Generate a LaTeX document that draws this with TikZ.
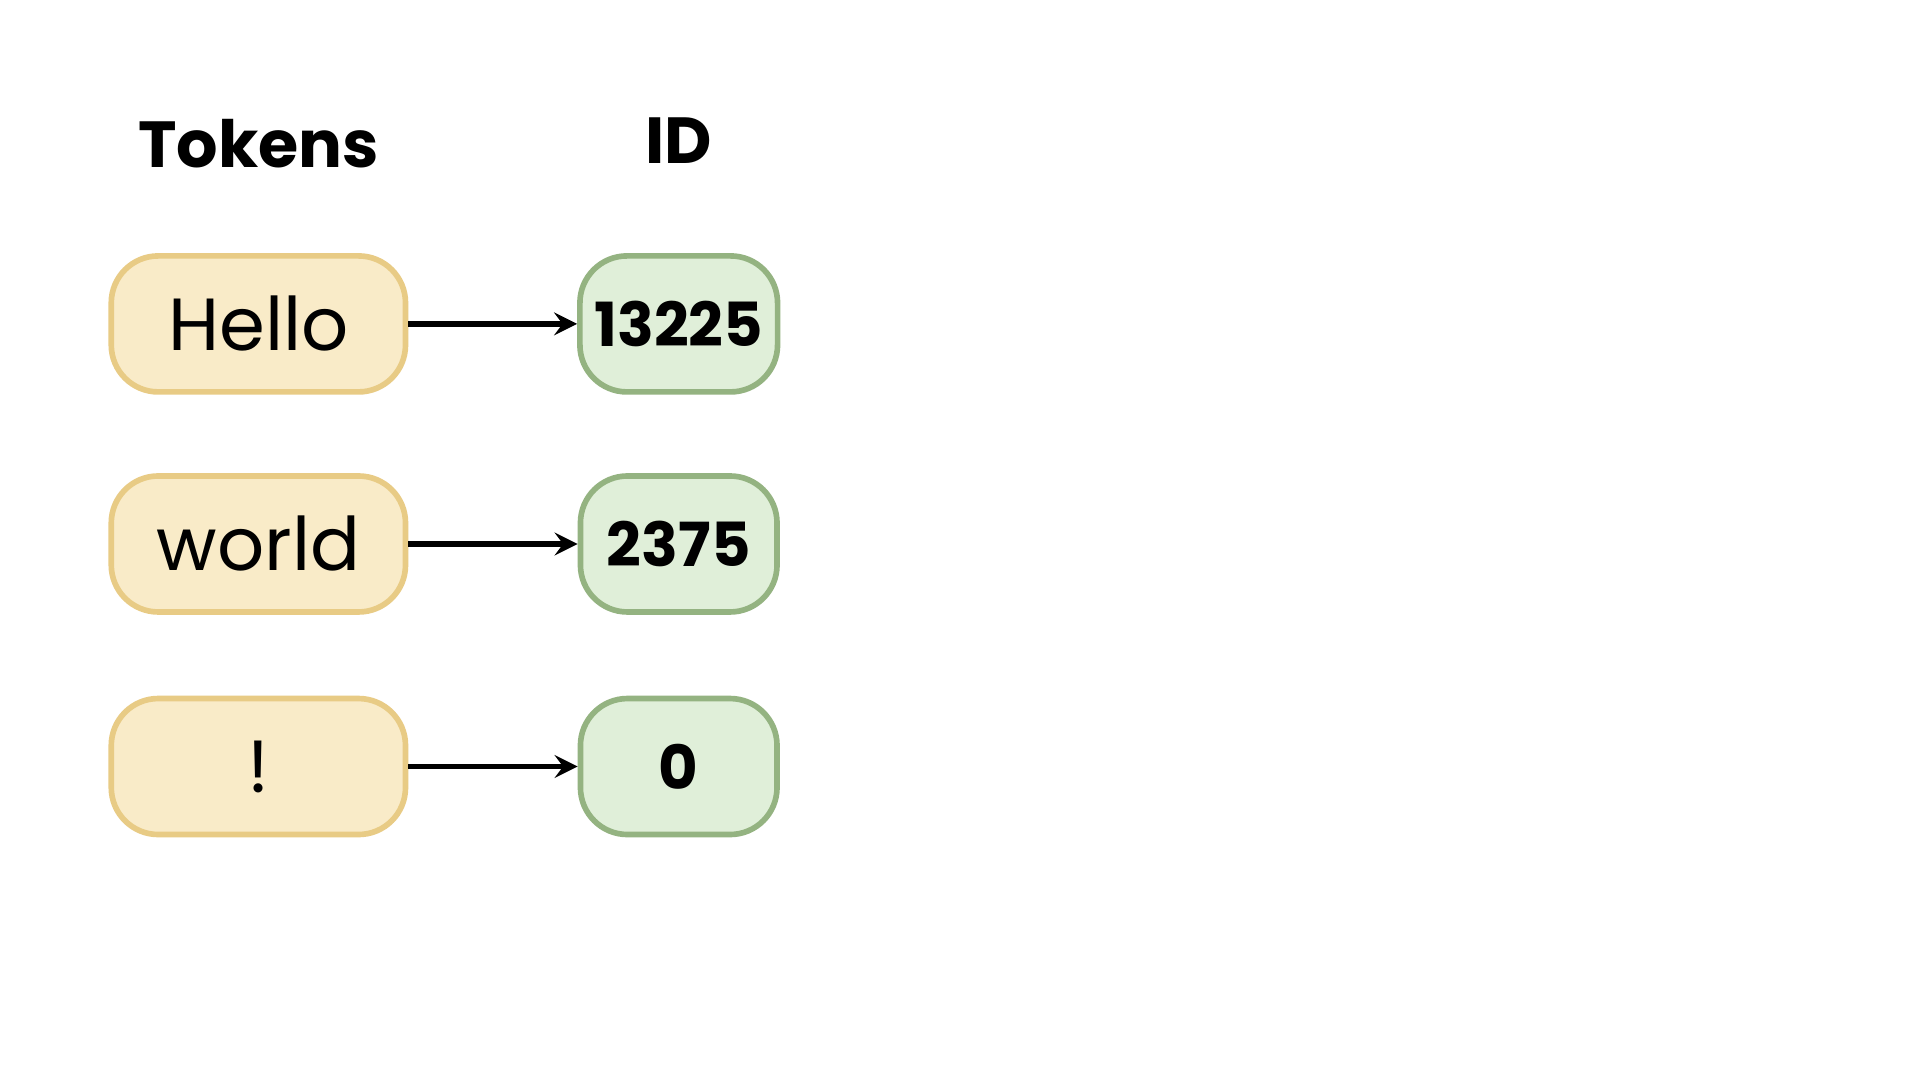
\documentclass[tikz,border=0pt]{standalone}
\usepackage{fontspec}
\setmainfont{Poppins}
\definecolor{tokfill}{HTML}{F9EBC8}
\definecolor{tokline}{HTML}{E8CB85}
\definecolor{idfill}{HTML}{E0EFD9}
\definecolor{idline}{HTML}{94B381}
\usetikzlibrary{positioning}

\begin{document}
\begin{tikzpicture}[x=1cm,y=1cm,
        tokbox/.style={draw=tokline,fill=tokfill,line width=1.3pt,rounded corners=0.38cm,
            minimum width=2.38cm,minimum height=1.1cm,font=\fontsize{17}{20}\selectfont},
        idbox/.style={draw=idline,fill=idfill,line width=1.3pt,rounded corners=0.38cm,
            minimum width=1.59cm,minimum height=1.1cm,font=\fontsize{14}{17}\selectfont\bfseries},
        head/.style={font=\fontsize{15}{18}\selectfont\bfseries},
        link/.style={->,>=stealth,line width=1.3pt}]
        \useasboundingbox[fill=white] (0,0) rectangle (15.53,8.74);
        \node[head] (htok) at (2.09,7.58) {Tokens};
        \node[head] (hid) at (5.49,7.60) {ID};
        \node[tokbox] (t0) at (2.09,6.12) {Hello};
        \node[tokbox] (t1) at (2.09,4.34) {world};
        \node[tokbox] (t2) at (2.09,2.54) {!};
        \node[idbox] (i0) at (5.49,6.12) {13225};
        \node[idbox] (i1) at (5.49,4.34) {2375};
        \node[idbox] (i2) at (5.49,2.54) {0};
        \foreach \k in {0,1,2}
            \draw[link] (t\k) -- (i\k);
\end{tikzpicture}
\end{document}
